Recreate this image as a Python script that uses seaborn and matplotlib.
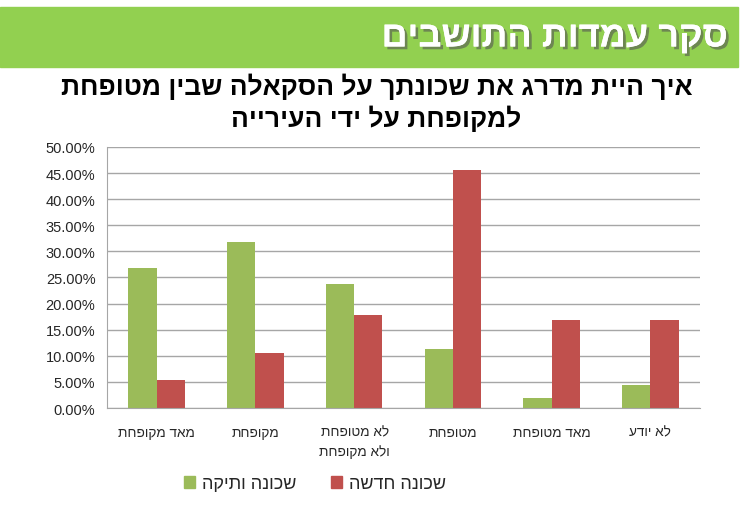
import pandas as pd
import numpy as np
import matplotlib.pyplot as plt
import matplotlib.patheffects as pe
from matplotlib.patches import Rectangle
from matplotlib.ticker import PercentFormatter, FixedLocator
import seaborn as sns

# Data
categories = ['מאד מקופחת', 'מקופחת', 'לא מטופחת\nולא מקופחת', 'מטופחת', 'מאד מטופחת', 'לא יודע']
series_names = ['שכונה ותיקה', 'שכונה חדשה']
old_values = [26.9, 31.7, 23.7, 11.3, 2.0, 4.5]
new_values = [5.3, 10.5, 17.8, 45.5, 16.9, 16.9]
header_text = 'סקר עמדות התושבים'
title_lines = ['איך היית מדרג את שכונתך על הסקאלה שבין מטופחת', 'למקופחת על ידי העירייה']


def heb(s):
    # matplotlib has no bidi support: reverse each line for visual RTL order
    return '\n'.join(line[::-1] for line in s.split('\n'))


df = pd.DataFrame({
    'category': categories * 2,
    'series': [series_names[0]] * 6 + [series_names[1]] * 6,
    'value': old_values + new_values,
})

sns.set_style('white')
plt.rcParams['font.family'] = ['Liberation Sans', 'DejaVu Sans']

fig = plt.figure(figsize=(7.5, 5.1), dpi=100)
ax = fig.add_axes([0.143, 0.198, 0.79, 0.512])

sns.barplot(data=df, x='category', y='value', hue='series',
            order=categories, hue_order=series_names,
            palette=['#9BBB59', '#C0504D'], width=0.57, gap=0,
            saturation=1, linewidth=0, legend=False, ax=ax)

ax.set_ylim(0, 50)
ax.set_xlim(-0.5, 5.5)
ax.yaxis.set_major_locator(FixedLocator(np.arange(0, 50.1, 5)))
ax.yaxis.set_major_formatter(PercentFormatter(decimals=2))
ax.grid(axis='y', color='#a6a6a6', linewidth=1)
ax.set_axisbelow(True)
ax.set_xlabel('')
ax.set_ylabel('')
ax.set_xticks(range(6))
ax.set_xticklabels([heb(c) for c in categories], fontsize=9.8,
                   multialignment='right', linespacing=1.45)
ax.set_xticks(np.arange(-0.5, 6, 1), minor=True)
ax.tick_params(axis='x', which='major', length=0, pad=12)
ax.tick_params(axis='x', which='minor', length=5, color='#a6a6a6', direction='out')
ax.tick_params(axis='y', length=5, color='#a6a6a6', labelsize=10.5, direction='out')
for side in ['top', 'right']:
    ax.spines[side].set_visible(False)
for side in ['left', 'bottom']:
    ax.spines[side].set_color('#a6a6a6')

# legend
handles = [Rectangle((0, 0), 1, 1, color=c) for c in ['#9BBB59', '#C0504D']]
fig.legend(handles, [heb(s) for s in series_names], loc='center', ncol=2,
           bbox_to_anchor=(315 / 750, 1 - 485 / 510), frameon=False, fontsize=13,
           handlelength=0.6, handleheight=0.6, handletextpad=0.4, columnspacing=1.9)

# header band
fig.patches.append(Rectangle((0, 1 - 68 / 510), 738 / 750, 60 / 510,
                             transform=fig.transFigure, color='#92D050', zorder=0))
fig.text(728 / 750, 1 - 38 / 510, heb(header_text), ha='right', va='center',
         fontsize=26, fontweight='bold', color='white',
         path_effects=[pe.withSimplePatchShadow(offset=(2, -2), shadow_rgbFace='#555555', alpha=0.6), pe.Normal()])

# title
fig.text(0.502, 1 - 87 / 510, heb(title_lines[0]), ha='center', va='center',
         fontsize=19, fontweight='bold', color='black')
fig.text(0.502, 1 - 119 / 510, heb(title_lines[1]), ha='center', va='center',
         fontsize=19, fontweight='bold', color='black')

plt.savefig('out.png', dpi=100)
